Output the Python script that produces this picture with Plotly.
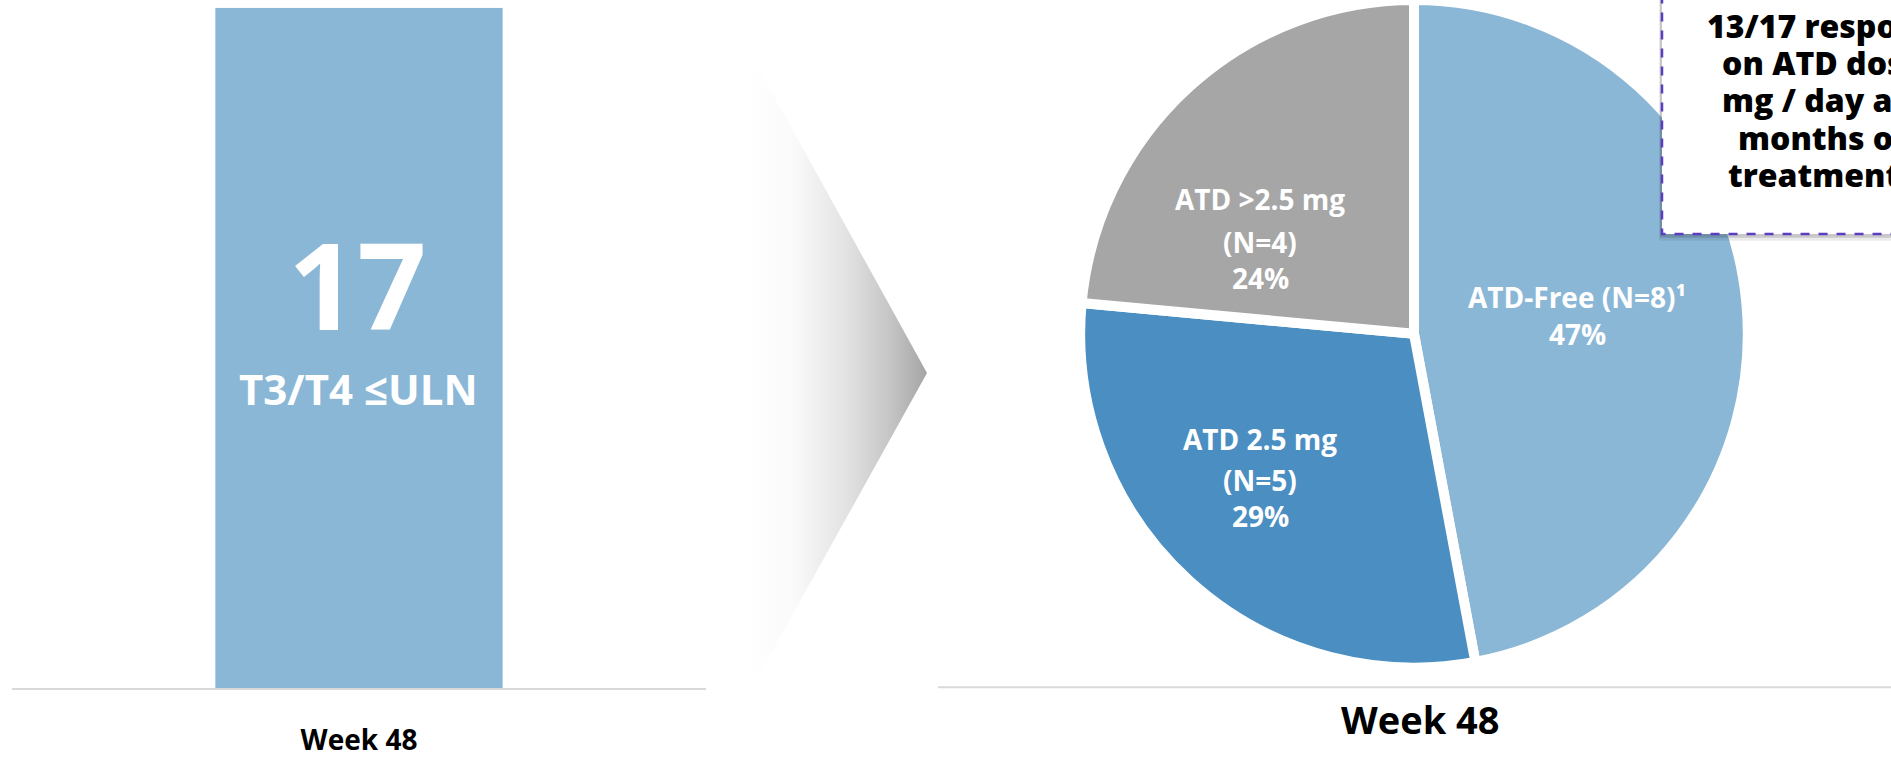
import plotly.graph_objects as go

W, H = 1891, 758

# ---------------- data ----------------
bar_categories = ["Week 48"]
bar_values = [17]
bar_big_label = "17"
bar_sub_label = "T3/T4 ≤ULN"

pie_labels = ["ATD-Free", "ATD 2.5 mg", "ATD >2.5 mg"]
pie_values = [8, 5, 4]
pie_footnotes = ["¹", "", ""]
pie_title = "Week 48"

callout_lines = ["13/17 responders", "on ATD dose ≤2.5", "mg / day after 12", "months of", "treatment"]

# ---------------- styles ----------------
LIGHT = "#8BB7D7"
DARK = "#4A8EC2"
GRAY = "#A6A6A6"
pie_colors = [LIGHT, DARK, GRAY]
FONT = "Open Sans"


def px(x):
    return x / W


def py(y):
    return min(1.0, max(0.0, 1 - y / H))


fig = go.Figure()

# Bar (left panel)
fig.add_trace(go.Bar(
    x=bar_categories, y=bar_values, marker=dict(color=LIGHT, line=dict(width=0)),
    xaxis="x", yaxis="y", showlegend=False, hoverinfo="skip",
))

# Chevron arrow with horizontal gradient (full-figure pixel axes)
fig.add_trace(go.Scatter(
    x=[750, 927, 750, 750], y=[54, 381, 706, 54], mode="lines",
    line=dict(width=0, color="rgba(0,0,0,0)"), fill="toself",
    fillgradient=dict(type="horizontal",
                      colorscale=[[0, "#FFFFFF"], [0.25, "#FAFAFA"], [0.55, "#E2E2E2"],
                                  [0.8, "#C4C4C4"], [1, "#A4A4A4"]]),
    xaxis="x2", yaxis="y2", showlegend=False, hoverinfo="skip",
))

# Pie (right panel)
cx, r = 1414, 341
fig.add_trace(go.Pie(
    labels=pie_labels, values=pie_values, sort=False, direction="clockwise", rotation=0,
    marker=dict(colors=pie_colors, line=dict(color="white", width=10)),
    textinfo="none", hoverinfo="skip", showlegend=False,
    domain=dict(x=[px(cx - r), px(cx + r)], y=[py(2 * r), 1.0]),
))

total = sum(pie_values)
pcts = [round(100 * v / total) for v in pie_values]

annotations = []
# bar texts
annotations.append(dict(x=px(357), y=py(289), xref="paper", yref="paper", text=bar_big_label,
                        showarrow=False, font=dict(family=FONT, size=121, color="white", weight=700),
                        xanchor="center", yanchor="middle"))
annotations.append(dict(x=px(358), y=py(397), xref="paper", yref="paper", text=bar_sub_label,
                        showarrow=False, font=dict(family=FONT, size=42, color="white", weight=700),
                        xanchor="center", yanchor="middle"))

# pie label texts
label_font = dict(family=FONT, size=28, color="white", weight=700)
lab_pos = {
    0: (1577, [303, 341]),
    1: (1260, [448, 490, 527]),
    2: (1260, [203, 247, 284]),
}
for i, name in enumerate(pie_labels):
    x0, ys = lab_pos[i]
    if len(ys) == 2:
        lines = [f"{name} (N={pie_values[i]}){pie_footnotes[i]}", f"{pcts[i]}%"]
    else:
        lines = [name, f"(N={pie_values[i]})", f"{pcts[i]}%"]
    for t, yy in zip(lines, ys):
        annotations.append(dict(x=px(x0), y=py(yy), xref="paper", yref="paper", text=t,
                                showarrow=False, font=label_font, xanchor="center", yanchor="middle"))

# right panel title
annotations.append(dict(x=px(1420), y=py(735), xref="paper", yref="paper", text=pie_title,
                        showarrow=False, font=dict(family=FONT, size=38, color="black", weight=700),
                        xanchor="center", yanchor="middle"))

# callout text (box runs past the right edge, so only its left part shows)
callout_cx = [1848, 1859, 1861, 1823, 1814]
for k, (t, xx) in enumerate(zip(callout_lines, callout_cx)):
    annotations.append(dict(x=xx, y=26 + 38.0 * k, xref="x2", yref="y2", text=t, showarrow=False,
                            font=dict(family=FONT, size=32, color="black", weight=800),
                            xanchor="center", yanchor="middle"))

shapes = [
    # right baseline
    dict(type="line", xref="x2", yref="y2", x0=938, x1=1900, y0=702, y1=702,
         line=dict(color="#D9D9D9", width=2)),
    # callout shadow
    dict(type="rect", xref="x2", yref="y2", x0=1659, x1=1960, y0=-20, y1=246,
         fillcolor="rgba(0,0,0,0.08)", line=dict(width=0)),
    dict(type="rect", xref="x2", yref="y2", x0=1660, x1=1960, y0=-20, y1=243,
         fillcolor="rgba(0,0,0,0.15)", line=dict(width=0)),
    # callout box
    dict(type="rect", xref="x2", yref="y2", x0=1662, x1=1960, y0=-20, y1=239,
         fillcolor="white", line=dict(color="#5A3DC0", width=2.5, dash="dash")),
]

fig.update_layout(
    width=W, height=H, margin=dict(l=0, r=0, t=0, b=0),
    paper_bgcolor="white", plot_bgcolor="rgba(0,0,0,0)",
    bargap=0.586,
    xaxis=dict(domain=[px(12), px(706)], showline=True, linecolor="#D9D9D9", linewidth=2,
               showgrid=False, zeroline=False, ticks="", ticklabelstandoff=26,
               tickfont=dict(family=FONT, size=28, color="black", weight=700), fixedrange=True,
               anchor="y"),
    yaxis=dict(domain=[py(703), py(8)], range=[0, 17], visible=False, fixedrange=True, anchor="x"),
    xaxis2=dict(domain=[0, 1], range=[0, W], visible=False, anchor="y2"),
    yaxis2=dict(domain=[0, 1], range=[H, 0], visible=False, anchor="x2"),
    annotations=annotations, shapes=shapes,
)

fig.write_html("out.html", config={"displayModeBar": False},
               post_script="document.body.style.margin='0';document.body.style.overflow='hidden';")
